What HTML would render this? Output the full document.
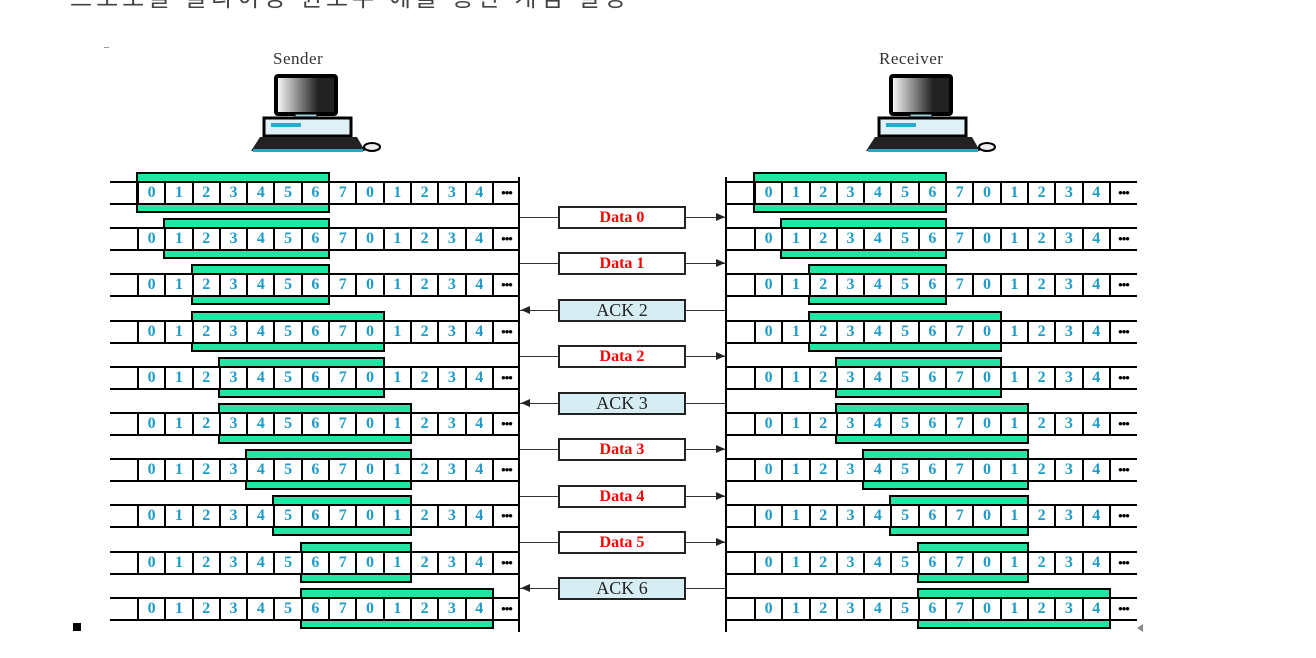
<!DOCTYPE html>
<html><head><meta charset="utf-8"><style>
body{margin:0;width:1316px;height:658px;background:#fff;position:relative;overflow:hidden;font-family:"Liberation Serif",serif}
.a{position:absolute}
.row{position:absolute;height:20px;border-top:2px solid #000;border-bottom:2px solid #000;display:flex}
.row span{box-sizing:border-box;width:27.3px;height:20px;border-left:2px solid #000;background:#fff;color:#1e9cc8;font-weight:bold;font-size:16px;line-height:20px;text-align:center;flex:none}
.row span.d{color:#000;font-size:13px;letter-spacing:-1px}
.row b{width:27px;flex:none}
.w{position:absolute;height:37px;background:#22e6a6;border:2px solid #000;box-sizing:content-box}
.vl{position:absolute;width:2px;background:#000;top:177px;height:455px}
.msg{position:absolute;left:558px;width:124px;height:19px;border:2px solid #222;text-align:center;font-size:16px;line-height:19px}
.dt{background:#fff;color:#f00;font-weight:bold}
.ak{background:#d6eef3;color:#222;font-size:18px}
.ln{position:absolute;height:1px;background:#333}
.ar{position:absolute;width:0;height:0;border-top:4px solid transparent;border-bottom:4px solid transparent}
.lab{position:absolute;font-size:17px;color:#333;letter-spacing:0.5px}
</style></head><body>
<div class="a" style="left:70px;top:-22px;font-size:24px;letter-spacing:4px;color:#444;font-family:'Liberation Sans','Noto Sans CJK KR',sans-serif">프로토콜 슬라이딩 윈도우 예를 통한 개념 설명</div>
<div class="a" style="left:104px;top:47px;width:5px;height:1px;background:#999"></div>
<div class="a" style="left:73px;top:623px;width:8px;height:8px;background:#000"></div>

<div class="lab" style="left:273px;top:49px">Sender</div>
<div class="lab" style="left:879px;top:49px">Receiver</div>

<svg class="a" style="left:245px;top:70px" width="140" height="90">
<defs><linearGradient id="g" x1="0" x2="1"><stop offset="0" stop-color="#fff"/><stop offset="0.7" stop-color="#222"/></linearGradient></defs>
<rect x="31" y="6" width="60" height="38" rx="2" fill="url(#g)" stroke="#000" stroke-width="4"/>
<rect x="50" y="44" width="22" height="4" fill="#9cd" stroke="#000"/>
<rect x="19" y="48" width="87" height="18" fill="#dff0f6" stroke="#000" stroke-width="3"/>
<rect x="26" y="53" width="30" height="4" fill="#29a8d0"/>
<path d="M15 67 L112 67 L120 81 L6 81 Z" fill="#222"/>
<rect x="8" y="79" width="110" height="3" fill="#2aa6c8"/>
<ellipse cx="127" cy="77" rx="8" ry="4" fill="#eee" stroke="#000" stroke-width="2"/>
</svg>
<svg class="a" style="left:860px;top:70px" width="140" height="90">
<rect x="31" y="6" width="60" height="38" rx="2" fill="url(#g)" stroke="#000" stroke-width="4"/>
<rect x="50" y="44" width="22" height="4" fill="#9cd" stroke="#000"/>
<rect x="19" y="48" width="87" height="18" fill="#dff0f6" stroke="#000" stroke-width="3"/>
<rect x="26" y="53" width="30" height="4" fill="#29a8d0"/>
<path d="M15 67 L112 67 L120 81 L6 81 Z" fill="#222"/>
<rect x="8" y="79" width="110" height="3" fill="#2aa6c8"/>
<ellipse cx="127" cy="77" rx="8" ry="4" fill="#eee" stroke="#000" stroke-width="2"/>
</svg>

<div class="w" style="left:136px;top:172px;width:190px"></div>
<div class="w" style="left:163px;top:218px;width:163px"></div>
<div class="w" style="left:191px;top:264px;width:135px"></div>
<div class="w" style="left:191px;top:311px;width:190px"></div>
<div class="w" style="left:218px;top:357px;width:163px"></div>
<div class="w" style="left:218px;top:403px;width:190px"></div>
<div class="w" style="left:245px;top:449px;width:163px"></div>
<div class="w" style="left:272px;top:495px;width:136px"></div>
<div class="w" style="left:300px;top:542px;width:108px"></div>
<div class="w" style="left:300px;top:588px;width:190px"></div>
<div class="w" style="left:753px;top:172px;width:190px"></div>
<div class="w" style="left:780px;top:218px;width:163px"></div>
<div class="w" style="left:808px;top:264px;width:135px"></div>
<div class="w" style="left:808px;top:311px;width:190px"></div>
<div class="w" style="left:835px;top:357px;width:163px"></div>
<div class="w" style="left:835px;top:403px;width:190px"></div>
<div class="w" style="left:862px;top:449px;width:163px"></div>
<div class="w" style="left:889px;top:495px;width:136px"></div>
<div class="w" style="left:917px;top:542px;width:108px"></div>
<div class="w" style="left:917px;top:588px;width:190px"></div>

<div class="row" style="left:110px;top:181px;width:409px"><b></b><span>0</span><span>1</span><span>2</span><span>3</span><span>4</span><span>5</span><span>6</span><span>7</span><span>0</span><span>1</span><span>2</span><span>3</span><span>4</span><span class="d">•••</span></div>
<div class="row" style="left:110px;top:227px;width:409px"><b></b><span>0</span><span>1</span><span>2</span><span>3</span><span>4</span><span>5</span><span>6</span><span>7</span><span>0</span><span>1</span><span>2</span><span>3</span><span>4</span><span class="d">•••</span></div>
<div class="row" style="left:110px;top:273px;width:409px"><b></b><span>0</span><span>1</span><span>2</span><span>3</span><span>4</span><span>5</span><span>6</span><span>7</span><span>0</span><span>1</span><span>2</span><span>3</span><span>4</span><span class="d">•••</span></div>
<div class="row" style="left:110px;top:320px;width:409px"><b></b><span>0</span><span>1</span><span>2</span><span>3</span><span>4</span><span>5</span><span>6</span><span>7</span><span>0</span><span>1</span><span>2</span><span>3</span><span>4</span><span class="d">•••</span></div>
<div class="row" style="left:110px;top:366px;width:409px"><b></b><span>0</span><span>1</span><span>2</span><span>3</span><span>4</span><span>5</span><span>6</span><span>7</span><span>0</span><span>1</span><span>2</span><span>3</span><span>4</span><span class="d">•••</span></div>
<div class="row" style="left:110px;top:412px;width:409px"><b></b><span>0</span><span>1</span><span>2</span><span>3</span><span>4</span><span>5</span><span>6</span><span>7</span><span>0</span><span>1</span><span>2</span><span>3</span><span>4</span><span class="d">•••</span></div>
<div class="row" style="left:110px;top:458px;width:409px"><b></b><span>0</span><span>1</span><span>2</span><span>3</span><span>4</span><span>5</span><span>6</span><span>7</span><span>0</span><span>1</span><span>2</span><span>3</span><span>4</span><span class="d">•••</span></div>
<div class="row" style="left:110px;top:504px;width:409px"><b></b><span>0</span><span>1</span><span>2</span><span>3</span><span>4</span><span>5</span><span>6</span><span>7</span><span>0</span><span>1</span><span>2</span><span>3</span><span>4</span><span class="d">•••</span></div>
<div class="row" style="left:110px;top:551px;width:409px"><b></b><span>0</span><span>1</span><span>2</span><span>3</span><span>4</span><span>5</span><span>6</span><span>7</span><span>0</span><span>1</span><span>2</span><span>3</span><span>4</span><span class="d">•••</span></div>
<div class="row" style="left:110px;top:597px;width:409px"><b></b><span>0</span><span>1</span><span>2</span><span>3</span><span>4</span><span>5</span><span>6</span><span>7</span><span>0</span><span>1</span><span>2</span><span>3</span><span>4</span><span class="d">•••</span></div>
<div class="row" style="left:726px;top:181px;width:411px"><b style="width:28px"></b><span>0</span><span>1</span><span>2</span><span>3</span><span>4</span><span>5</span><span>6</span><span>7</span><span>0</span><span>1</span><span>2</span><span>3</span><span>4</span><span class="d">•••</span></div>
<div class="row" style="left:726px;top:227px;width:411px"><b style="width:28px"></b><span>0</span><span>1</span><span>2</span><span>3</span><span>4</span><span>5</span><span>6</span><span>7</span><span>0</span><span>1</span><span>2</span><span>3</span><span>4</span><span class="d">•••</span></div>
<div class="row" style="left:726px;top:273px;width:411px"><b style="width:28px"></b><span>0</span><span>1</span><span>2</span><span>3</span><span>4</span><span>5</span><span>6</span><span>7</span><span>0</span><span>1</span><span>2</span><span>3</span><span>4</span><span class="d">•••</span></div>
<div class="row" style="left:726px;top:320px;width:411px"><b style="width:28px"></b><span>0</span><span>1</span><span>2</span><span>3</span><span>4</span><span>5</span><span>6</span><span>7</span><span>0</span><span>1</span><span>2</span><span>3</span><span>4</span><span class="d">•••</span></div>
<div class="row" style="left:726px;top:366px;width:411px"><b style="width:28px"></b><span>0</span><span>1</span><span>2</span><span>3</span><span>4</span><span>5</span><span>6</span><span>7</span><span>0</span><span>1</span><span>2</span><span>3</span><span>4</span><span class="d">•••</span></div>
<div class="row" style="left:726px;top:412px;width:411px"><b style="width:28px"></b><span>0</span><span>1</span><span>2</span><span>3</span><span>4</span><span>5</span><span>6</span><span>7</span><span>0</span><span>1</span><span>2</span><span>3</span><span>4</span><span class="d">•••</span></div>
<div class="row" style="left:726px;top:458px;width:411px"><b style="width:28px"></b><span>0</span><span>1</span><span>2</span><span>3</span><span>4</span><span>5</span><span>6</span><span>7</span><span>0</span><span>1</span><span>2</span><span>3</span><span>4</span><span class="d">•••</span></div>
<div class="row" style="left:726px;top:504px;width:411px"><b style="width:28px"></b><span>0</span><span>1</span><span>2</span><span>3</span><span>4</span><span>5</span><span>6</span><span>7</span><span>0</span><span>1</span><span>2</span><span>3</span><span>4</span><span class="d">•••</span></div>
<div class="row" style="left:726px;top:551px;width:411px"><b style="width:28px"></b><span>0</span><span>1</span><span>2</span><span>3</span><span>4</span><span>5</span><span>6</span><span>7</span><span>0</span><span>1</span><span>2</span><span>3</span><span>4</span><span class="d">•••</span></div>
<div class="row" style="left:726px;top:597px;width:411px"><b style="width:28px"></b><span>0</span><span>1</span><span>2</span><span>3</span><span>4</span><span>5</span><span>6</span><span>7</span><span>0</span><span>1</span><span>2</span><span>3</span><span>4</span><span class="d">•••</span></div>

<div class="vl" style="left:518px"></div>
<div class="vl" style="left:725px"></div>

<div class="ln" style="left:520px;top:217px;width:205px"></div>
<div class="ln" style="left:520px;top:263px;width:205px"></div>
<div class="ln" style="left:520px;top:310px;width:205px"></div>
<div class="ln" style="left:520px;top:356px;width:205px"></div>
<div class="ln" style="left:520px;top:403px;width:205px"></div>
<div class="ln" style="left:520px;top:449px;width:205px"></div>
<div class="ln" style="left:520px;top:496px;width:205px"></div>
<div class="ln" style="left:520px;top:542px;width:205px"></div>
<div class="ln" style="left:520px;top:588px;width:205px"></div>
<div class="ar" style="left:716px;top:213px;border-left:9px solid #222"></div>
<div class="ar" style="left:716px;top:259px;border-left:9px solid #222"></div>
<div class="ar" style="left:716px;top:352px;border-left:9px solid #222"></div>
<div class="ar" style="left:716px;top:445px;border-left:9px solid #222"></div>
<div class="ar" style="left:716px;top:492px;border-left:9px solid #222"></div>
<div class="ar" style="left:716px;top:538px;border-left:9px solid #222"></div>
<div class="ar" style="left:521px;top:306px;border-right:9px solid #222"></div>
<div class="ar" style="left:521px;top:399px;border-right:9px solid #222"></div>
<div class="ar" style="left:521px;top:584px;border-right:9px solid #222"></div>
<div class="ar" style="left:1137px;top:624px;border-right:6px solid #888"></div>

<div class="msg dt" style="top:206px">Data 0</div>
<div class="msg dt" style="top:252px">Data 1</div>
<div class="msg ak" style="top:299px">ACK 2</div>
<div class="msg dt" style="top:345px">Data 2</div>
<div class="msg ak" style="top:392px">ACK 3</div>
<div class="msg dt" style="top:438px">Data 3</div>
<div class="msg dt" style="top:485px">Data 4</div>
<div class="msg dt" style="top:531px">Data 5</div>
<div class="msg ak" style="top:577px">ACK 6</div>
</body></html>
